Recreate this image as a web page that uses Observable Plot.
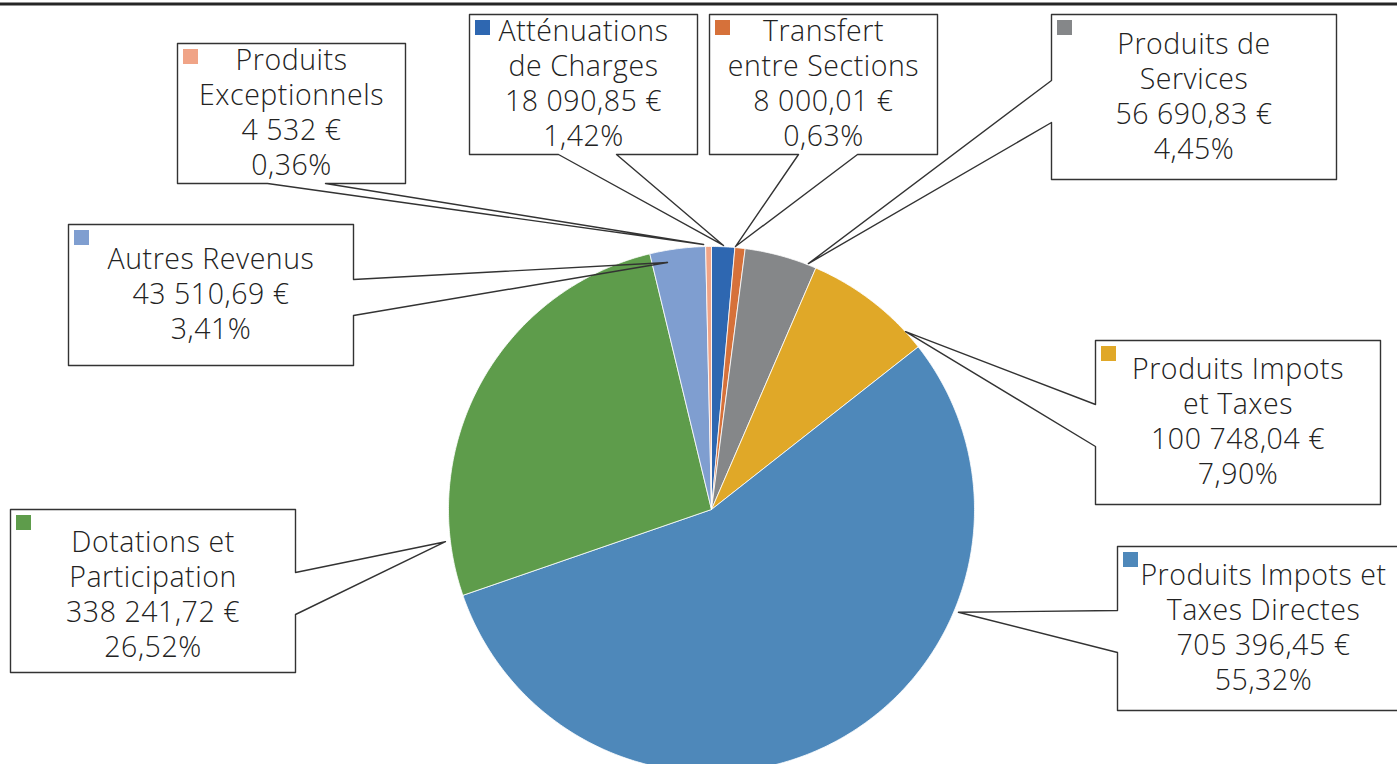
<!DOCTYPE html>
<html>
<head>
<meta charset="utf-8">
<script src="https://cdn.jsdelivr.net/npm/d3@7"></script>
<script src="https://cdn.jsdelivr.net/npm/@observablehq/plot@0.6"></script>
<style>
  html, body { margin: 0; padding: 0; background: #fff; }
  #chart svg text { letter-spacing: 0.55px; }
</style>
</head>
<body>
<div id="chart"></div>
<script>
// ---- Data (pie order, clockwise from 12 o'clock) ----
const names = [
  "Atténuations de Charges",
  "Transfert entre Sections",
  "Produits de Services",
  "Produits Impots et Taxes",
  "Produits Impots et Taxes Directes",
  "Dotations et Participation",
  "Autres Revenus",
  "Produits Exceptionnels"
];
const labelLines = [
  "Atténuations\nde Charges",
  "Transfert\nentre Sections",
  "Produits de\nServices",
  "Produits Impots\net Taxes",
  "Produits Impots et\nTaxes Directes",
  "Dotations et\nParticipation",
  "Autres Revenus",
  "Produits\nExceptionnels"
];
const values = [18090.85, 8000.01, 56690.83, 100748.04, 705396.45, 338241.72, 43510.69, 4532];
const valueLabels = ["18 090,85 €", "8 000,01 €", "56 690,83 €", "100 748,04 €", "705 396,45 €", "338 241,72 €", "43 510,69 €", "4 532 €"];
const percentLabels = ["1,42%", "0,63%", "4,45%", "7,90%", "55,32%", "26,52%", "3,41%", "0,36%"];
const colors = ["#2E67B1", "#D6713A", "#858789", "#E0A828", "#4E88BA", "#5E9C4B", "#7F9ED0", "#F0A487"];

// ---- Layout (callout boxes, pointer bases, pointer tips as angle/radius factor) ----
const W = 1397, H = 764;
const pie = {cx: 711, cy: 509, r: 263};
const boxes = [
  {box: [469, 14, 228, 140], edge: "bottom", base: [558, 616], tipAngle: 2.6, tipR: 1.005, tx: 0, ty: 0},
  {box: [709, 14, 228, 140], edge: "bottom", base: [798, 857], tipAngle: 5.2, tipR: 1.004, tx: 0, ty: 0},
  {box: [1051, 14, 285, 165], edge: "left", base: [80, 122], tipAngle: 21.5, tipR: 1.005, tx: 0, ty: 0},
  {box: [1095, 340, 285, 164], edge: "left", base: [404, 446], tipAngle: 47.5, tipR: 1.001, tx: 0, ty: 0},
  {box: [1117, 546, 290, 164], edge: "left", base: [610, 652], tipAngle: 112.6, tipR: 1.017, tx: 1, ty: 0},
  {box: [10, 509, 285, 163], edge: "right", base: [572, 614], tipAngle: 263.1, tipR: 1.019, tx: 0, ty: 4},
  {box: [68, 224, 285, 141], edge: "right", base: [279, 315], tipAngle: 349.9, tipR: 0.954, tx: 0, ty: 0},
  {box: [177, 43, 228, 140], edge: "bottom", base: [267, 325], tipAngle: 358.3, tipR: 1.008, tx: 0, ty: 0}
];

// ---- Derived geometry ----
const total = d3.sum(values);
const polar = (deg, rf) => {
  const a = deg * Math.PI / 180;
  return [pie.cx + pie.r * rf * Math.sin(a), pie.cy - pie.r * rf * Math.cos(a)];
};

const slicePts = [];
let acc = 0;
values.forEach((v, i) => {
  const a0 = acc / total * 360, a1 = (acc + v) / total * 360;
  acc += v;
  slicePts.push({name: names[i], x: pie.cx, y: pie.cy});
  const n = Math.max(2, Math.ceil((a1 - a0) / 0.5));
  for (let k = 0; k <= n; k++) {
    const [x, y] = polar(a0 + (a1 - a0) * k / n, 1);
    slicePts.push({name: names[i], x, y});
  }
  slicePts.push({name: names[i], x: pie.cx, y: pie.cy});
});

const outlinePts = [];
const textRows = [];
const markerRows = [];
boxes.forEach((b, i) => {
  const [x1, y1, w, h] = b.box;
  const x2 = x1 + w, y2 = y1 + h;
  const tip = polar(b.tipAngle, b.tipR);
  const [a, c] = b.base;
  let pts = [[x1, y1], [x2, y1]];
  if (b.edge === "right") pts.push([x2, a], tip, [x2, c]);
  pts.push([x2, y2]);
  if (b.edge === "bottom") pts.push([c, y2], tip, [a, y2]);
  pts.push([x1, y2]);
  if (b.edge === "left") pts.push([x1, c], tip, [x1, a]);
  pts.push([x1, y1]);
  pts.forEach(([x, y]) => outlinePts.push({name: names[i], x, y}));
  textRows.push({
    name: names[i],
    x: (x1 + x2) / 2 + b.tx,
    y: (y1 + y2) / 2 + b.ty,
    text: labelLines[i] + "\n" + valueLabels[i] + "\n" + percentLabels[i]
  });
  markerRows.push({name: names[i], x1: x1 + 6, x2: x1 + 21, y1: y1 + 6, y2: y1 + 21});
});

const chart = Plot.plot({
  width: W,
  height: H,
  margin: 0,
  x: {domain: [0, W], range: [0, W], axis: null},
  y: {domain: [0, H], range: [0, H], axis: null},
  color: {domain: names, range: colors},
  style: {fontFamily: "'Open Sans', sans-serif", background: "#fff"},
  marks: [
    Plot.ruleY([3.5], {stroke: "#262626", strokeWidth: 3}),
    Plot.line(slicePts, {x: "x", y: "y", z: "name", fill: "name", stroke: "white", strokeWidth: 1, strokeOpacity: 0.8}),
    Plot.line(outlinePts, {x: "x", y: "y", z: "name", stroke: "#333", strokeWidth: 1.4, fill: "none"}),
    Plot.rect(markerRows, {x1: "x1", x2: "x2", y1: "y1", y2: "y2", fill: "name"}),
    Plot.text(textRows, {x: "x", y: "y", dy: -2, text: "text", fontSize: 28.5, fontWeight: 300, lineHeight: 1.23, lineAnchor: "middle", textAnchor: "middle", fill: "#222"})
  ]
});
document.getElementById("chart").appendChild(chart);
</script>
</body>
</html>
